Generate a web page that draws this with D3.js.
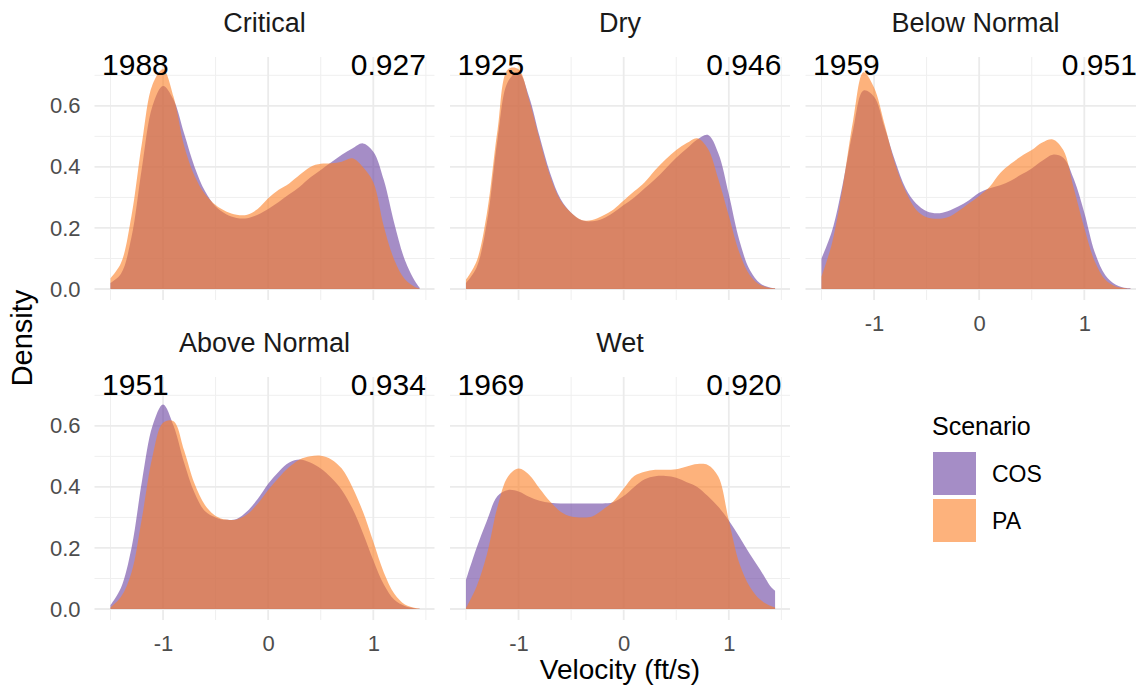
<!DOCTYPE html>
<html><head><meta charset="utf-8">
<script src="https://cdn.jsdelivr.net/npm/d3@7"></script>
<style>
body{margin:0;background:#fff}
svg{display:block}
text{font-family:"Liberation Sans",Arial,Helvetica,sans-serif}
</style>
</head><body>
<svg id="chart" width="1136" height="696"></svg>
<script>
// ---- data ----
const velocity = [-1.5,-1.4,-1.3,-1.2,-1.1,-1.0,-0.9,-0.8,-0.7,-0.6,-0.5,-0.4,-0.3,-0.2,-0.1,0,0.1,0.2,0.3,0.4,0.5,0.6,0.7,0.8,0.9,1.0,1.1,1.2,1.3,1.4,1.44];
const panels = ["Critical","Dry","Below Normal","Above Normal","Wet"];
const scenarios = ["COS","PA"];
const years = ["1988","1925","1959","1951","1969"];
const scores = ["0.927","0.946","0.951","0.934","0.920"];
const xTicks = [-1,0,1];
const xMinor = [-1.5,-0.5,0.5,1.5];
const yTicks = [0,0.2,0.4,0.6];
const yMinor = [0.1,0.3,0.5,0.7];

const criticalCOS = [0.02,0.05,0.17,0.40,0.60,0.665,0.62,0.51,0.40,0.32,0.27,0.245,0.233,0.232,0.243,0.262,0.285,0.31,0.335,0.365,0.39,0.415,0.44,0.46,0.477,0.45,0.357,0.215,0.095,0.024,0.005];
const criticalPA  = [0.035,0.085,0.24,0.48,0.67,0.72,0.63,0.47,0.37,0.31,0.275,0.254,0.243,0.243,0.262,0.297,0.325,0.346,0.374,0.40,0.41,0.412,0.417,0.428,0.40,0.35,0.205,0.095,0.032,0.006,0.002];
const dryCOS = [0.02,0.07,0.22,0.49,0.68,0.71,0.63,0.50,0.38,0.295,0.25,0.225,0.222,0.23,0.25,0.275,0.30,0.33,0.36,0.395,0.43,0.46,0.49,0.505,0.445,0.31,0.16,0.062,0.018,0.004,0.002];
const dryPA  = [0.03,0.09,0.25,0.52,0.72,0.72,0.62,0.49,0.37,0.29,0.25,0.226,0.226,0.24,0.26,0.29,0.32,0.35,0.39,0.425,0.455,0.478,0.494,0.46,0.36,0.24,0.12,0.045,0.013,0.003,0.002];
const belowCOS = [0.10,0.19,0.34,0.52,0.65,0.63,0.53,0.42,0.33,0.28,0.255,0.248,0.255,0.27,0.29,0.315,0.33,0.34,0.355,0.375,0.395,0.42,0.44,0.43,0.36,0.25,0.12,0.045,0.014,0.003,0.002];
const belowPA  = [0.04,0.15,0.33,0.55,0.71,0.66,0.54,0.41,0.32,0.26,0.235,0.23,0.235,0.255,0.28,0.305,0.335,0.38,0.41,0.435,0.455,0.48,0.49,0.455,0.33,0.20,0.09,0.03,0.008,0.002,0.001];
const aboveCOS = [0.013,0.07,0.2,0.42,0.6,0.67,0.6,0.48,0.38,0.32,0.3,0.292,0.295,0.32,0.36,0.41,0.45,0.48,0.49,0.48,0.46,0.43,0.39,0.33,0.25,0.16,0.08,0.03,0.01,0.002,0.001];
const abovePA  = [0.005,0.04,0.12,0.3,0.5,0.61,0.615,0.52,0.41,0.34,0.305,0.293,0.293,0.31,0.345,0.39,0.43,0.465,0.49,0.5,0.502,0.49,0.46,0.4,0.32,0.22,0.12,0.05,0.015,0.003,0.001];
const wetCOS = [0.095,0.2,0.29,0.37,0.39,0.385,0.368,0.355,0.348,0.346,0.346,0.346,0.346,0.346,0.35,0.37,0.4,0.425,0.435,0.436,0.43,0.415,0.40,0.37,0.335,0.29,0.237,0.18,0.128,0.073,0.06];
const wetPA  = [0.003,0.073,0.18,0.335,0.434,0.46,0.44,0.395,0.352,0.319,0.303,0.3,0.303,0.325,0.352,0.395,0.436,0.45,0.456,0.456,0.458,0.467,0.475,0.472,0.434,0.29,0.15,0.073,0.03,0.01,0.006];

const seriesByPanel = [
  [criticalCOS, criticalPA],
  [dryCOS, dryPA],
  [belowCOS, belowPA],
  [aboveCOS, abovePA],
  [wetCOS, wetPA]
];

// ---- styles / layout ----
const fillColors = {COS:"#6941A0", PA:"#FC7F25"};
const fillAlpha = 0.6;
const panelW = 340, panelH = 243;
const colLeft = c => 94.5 + c*355.5;
const rowTop = r => 57 + r*320;

const svg = d3.select("#chart");

const x = d3.scaleLinear().domain([-1.652, 1.582]).range([0, panelW]);
const y = d3.scaleLinear().domain([-0.036, 0.76]).range([panelH, 0]);

const area = d3.area()
  .x((d,i) => x(velocity[i]))
  .y0(y(0))
  .y1(d => y(Math.max(0,d)))
  .curve(d3.curveCatmullRom.alpha(0.5));

panels.forEach((name, i) => {
  const col = i % 3, row = Math.floor(i / 3);
  const g = svg.append("g").attr("transform", `translate(${colLeft(col)},${rowTop(row)})`);

  // grid minor
  g.selectAll(".vminor").data(xMinor).join("line")
    .attr("x1", d => x(d)).attr("x2", d => x(d)).attr("y1", 0).attr("y2", panelH)
    .attr("stroke", "#EFEFEF").attr("stroke-width", 1);
  g.selectAll(".hminor").data(yMinor).join("line")
    .attr("x1", 0).attr("x2", panelW).attr("y1", d => y(d)).attr("y2", d => y(d))
    .attr("stroke", "#EFEFEF").attr("stroke-width", 1);
  // grid major
  g.selectAll(".vmajor").data(xTicks).join("line")
    .attr("x1", d => x(d)).attr("x2", d => x(d)).attr("y1", 0).attr("y2", panelH)
    .attr("stroke", "#EBEBEB").attr("stroke-width", 1.8);
  g.selectAll(".hmajor").data(yTicks).join("line")
    .attr("x1", 0).attr("x2", panelW).attr("y1", d => y(d)).attr("y2", d => y(d))
    .attr("stroke", "#EBEBEB").attr("stroke-width", 1.8);

  // density areas
  scenarios.forEach((s, k) => {
    g.append("path")
      .datum(seriesByPanel[i][k])
      .attr("d", area)
      .attr("fill", fillColors[s])
      .attr("fill-opacity", fillAlpha);
  });

  // strip title
  g.append("text").attr("x", panelW/2).attr("y", -25)
    .attr("text-anchor", "middle").attr("font-size", 27).attr("fill", "#1A1A1A")
    .text(name);

  // annotations
  g.append("text").attr("x", x(-1.58)).attr("y", y(0.70))
    .attr("text-anchor", "start").attr("font-size", 30).attr("fill", "#000")
    .text(years[i]);
  g.append("text").attr("x", x(1.50)).attr("y", y(0.70))
    .attr("text-anchor", "end").attr("font-size", 30).attr("fill", "#000")
    .text(scores[i]);

  // axes
  if (col === 0) {
    const ya = g.append("g").call(d3.axisLeft(y).tickValues(yTicks).tickFormat(d3.format(".1f")).tickSize(0).tickPadding(14));
    ya.select(".domain").remove();
    ya.selectAll("text").attr("font-size", 22).attr("fill", "#4D4D4D").attr("font-family", null);
  }
  if (row === 1 || i === 2) {
    const xa = g.append("g").attr("transform", `translate(0,${panelH})`)
      .call(d3.axisBottom(x).tickValues(xTicks).tickFormat(d => String(d)).tickSize(0).tickPadding(15));
    xa.select(".domain").remove();
    xa.selectAll("text").attr("font-size", 22).attr("fill", "#4D4D4D").attr("font-family", null);
  }
});

// axis titles
svg.append("text").attr("x", 620).attr("y", 679).attr("text-anchor", "middle")
  .attr("font-size", 28).attr("fill", "#000").text("Velocity (ft/s)");
svg.append("text").attr("transform", "translate(32,338) rotate(-90)").attr("text-anchor", "middle")
  .attr("font-size", 29).attr("fill", "#000").text("Density");

// legend
const lg = svg.append("g").attr("transform", "translate(932,0)");
lg.append("text").attr("x", 0).attr("y", 435).attr("font-size", 25).attr("fill", "#000").text("Scenario");
scenarios.forEach((s, k) => {
  lg.append("rect").attr("x", 1).attr("y", 452 + k*47).attr("width", 43).attr("height", 43)
    .attr("fill", fillColors[s]).attr("fill-opacity", fillAlpha);
  lg.append("text").attr("x", 60).attr("y", 452 + k*47 + 21.5).attr("dy", "0.36em")
    .attr("font-size", 23).attr("fill", "#000").text(s);
});
</script>
</body></html>
